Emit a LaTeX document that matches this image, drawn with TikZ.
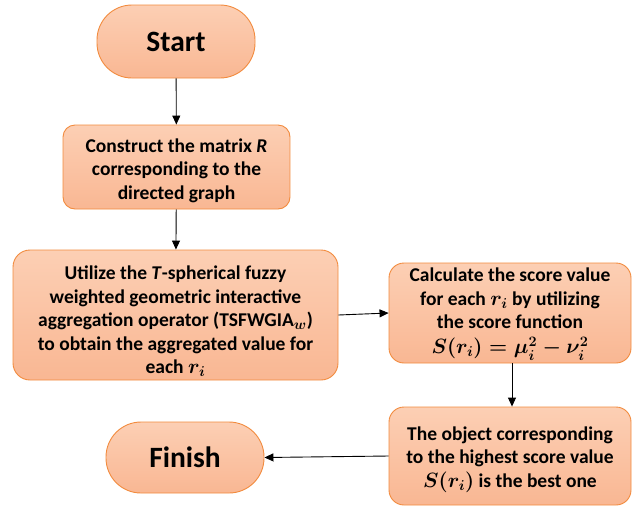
\documentclass[tikz,border=0pt]{standalone}
\usepackage{amsmath,bm}
\usepackage{fontspec}
\setmainfont{Carlito}
\usetikzlibrary{arrows.meta}
\definecolor{boxtop}{HTML}{FCCFB4}
\definecolor{boxbot}{HTML}{F9B793}
\definecolor{boxline}{HTML}{F28B3E}
\newcommand{\boxtext}[2]{\raisebox{-#1}[\height][\depth]{\begin{tabular}{@{}c@{}}#2\end{tabular}}}
\newcommand{\bmath}[1]{{\boldmath\fontsize{21}{24}\selectfont$#1$}}
\tikzset{
  flow/.style={draw=boxline, line width=0.9pt, top color=boxtop, bottom color=boxbot,
    align=center, inner sep=0pt, font=\bfseries\fontsize{19.5}{23.5}\selectfont},
  term/.style={flow, rounded corners=35pt, font=\bfseries\fontsize{29.5}{32}\selectfont},
  conn/.style={draw=black, line width=0.9pt, -{Triangle[length=9pt,width=8pt]}}
}
\begin{document}
\begin{tikzpicture}[x=1pt,y=-1pt]
\useasboundingbox (0,0) rectangle (636,507);
\node[term, minimum width=158pt, minimum height=73pt] (start) at (176,41.5) {Start};
\node[flow, rounded corners=12pt, minimum width=227pt, minimum height=84pt] (cons) at (176.5,167)
  {\boxtext{4pt}{Construct the matrix \textit{R}\\corresponding to the\\directed graph}};
\node[flow, rounded corners=17pt, minimum width=325pt, minimum height=130pt] (util) at (175.5,315)
  {\boxtext{7pt}{Utilize the \textit{T}-spherical fuzzy\\weighted geometric interactive\\aggregation operator (TSFWGIA\bmath{_{w}})\\to obtain the aggregated value for\\each \bmath{r_i}}};
\node[flow, rounded corners=15pt, minimum width=242pt, minimum height=100pt] (calc) at (510,313)
  {\boxtext{0pt}{Calculate the score value\\for each \bmath{r_i} by utilizing\\the score function\\[1pt]\bmath{S(r_i)=\mu_i^2-\nu_i^2}}};
\node[flow, rounded corners=15pt, minimum width=242pt, minimum height=98pt] (obj) at (510,456)
  {\boxtext{3pt}{The object corresponding\\to the highest score value\\\bmath{S(r_i)} is the best one}};
\node[term, minimum width=158pt, minimum height=71pt] (fin) at (185,457.5) {Finish};
\draw[conn] (start) -- (cons);
\draw[conn] (cons) -- (util);
\draw[conn] (util.east) -- (calc.west);
\draw[conn] (calc.south -| 512,0) -- (obj.north -| 512,0);
\draw[conn] (obj.west) -- (fin.east);
\end{tikzpicture}
\end{document}
